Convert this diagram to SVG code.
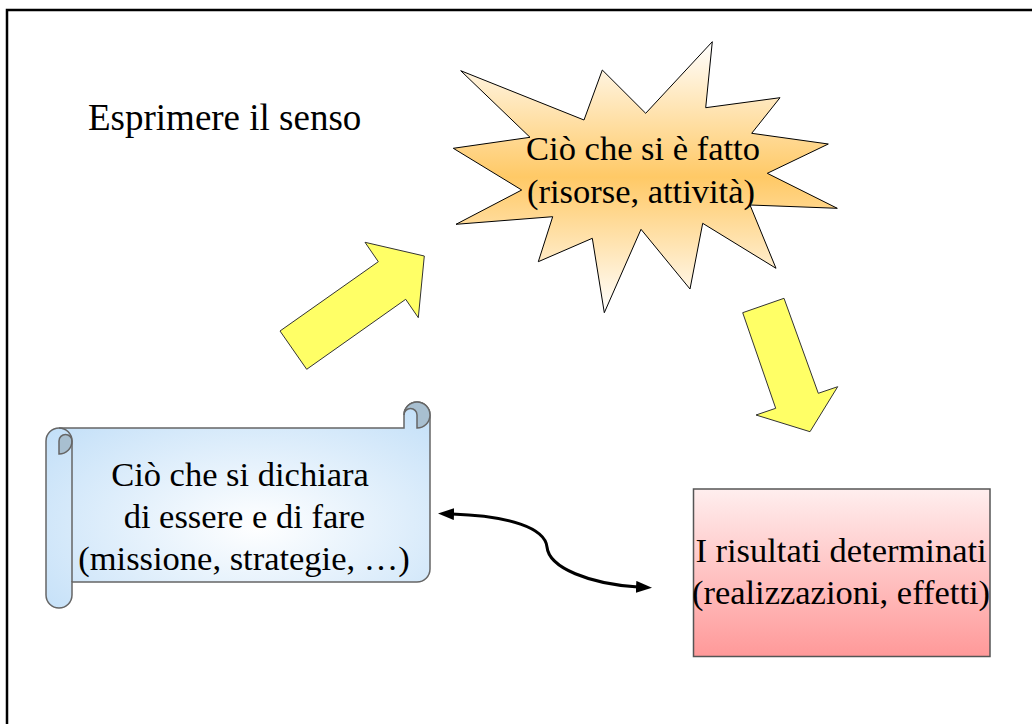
<svg xmlns="http://www.w3.org/2000/svg" width="1032" height="724" viewBox="0 0 1032 724">
  <style>
    text { font-family: 'Liberation Serif', 'Times New Roman', Times, serif; fill: #000; }
    .t { font-size: 34.5px; text-anchor: middle; }
    .title { font-size: 37px; }
    .blk { fill: #ffff66; stroke: #333; stroke-width: 1; stroke-linejoin: miter; }
    .scr { stroke: #666; stroke-width: 1.5; fill: none; }
  </style>
  <defs>
    <linearGradient id="gStar" x1="0" y1="0" x2="0" y2="1">
      <stop offset="0" stop-color="#ffffff"/>
      <stop offset="0.5" stop-color="#ffc966"/>
      <stop offset="1" stop-color="#ffffff"/>
    </linearGradient>
    <linearGradient id="gRed" x1="0" y1="0" x2="0" y2="1">
      <stop offset="0" stop-color="#ffeeee"/>
      <stop offset="1" stop-color="#ff9999"/>
    </linearGradient>
    <radialGradient id="gScroll" cx="0.55" cy="0.6" r="0.7">
      <stop offset="0" stop-color="#ffffff"/>
      <stop offset="1" stop-color="#c4e0f8"/>
    </radialGradient>
    <marker id="ah" viewBox="0 0 16 12" refX="2" refY="6" markerWidth="16" markerHeight="12" markerUnits="userSpaceOnUse" orient="auto-start-reverse">
      <path d="M0,0 L16,6 L0,12 Z" fill="#000"/>
    </marker>
  </defs>

  <rect x="0" y="0" width="1032" height="724" fill="#fff"/>
  <rect id="frame" x="7" y="10" width="1100" height="800" fill="none" stroke="#000" stroke-width="2.5"/>

  <g id="title">
    <text class="title" x="88" y="130" font-family="Liberation Serif">Esprimere il senso</text>
  </g>

  <g id="star">
    <polygon points="712.3,41.7 705.7,107.7 780,97.7 751.7,133.3 828.3,144 767.3,173.3 837.3,208.3 750,205 776,268.3 702.7,223.3 690,289 641,229.3 604.3,312.7 592.3,238.3 538.3,261.7 552.7,216.7 456,224.3 521.7,190 453.3,148.3 530,137.3 460.7,70.7 584,120 602.3,70 645.7,113.3" fill="url(#gStar)" stroke="#000" stroke-width="1"/>
    <text class="t" x="643" y="160" font-family="Liberation Serif">Ciò che si è fatto</text>
    <text class="t" x="641" y="203" font-family="Liberation Serif">(risorse, attività)</text>
  </g>

  <g id="arrow-up">
    <polygon class="blk" points="280,331 306.7,369.3 405.7,299.3 418.3,317.7 424.3,256 365,242.3 378.3,261.7"/>
  </g>

  <g id="arrow-down">
    <polygon class="blk" points="742.7,312.7 784,298.3 818.3,393.3 837.7,386.7 810,431.7 756,415 775.7,408.3"/>
  </g>

  <g id="scroll">
    <path d="M430,415 A13,13 0 0 0 404,415 L404,428 L59,428 A13,13 0 0 0 46,441 L46,595 A13,13 0 0 0 72,595 L72,582 L417,582 A13,13 0 0 0 430,569 Z" fill="url(#gScroll)" stroke="#666" stroke-width="1.5"/>
    <path d="M430,415 A13,13 0 0 0 404,415 A6.5,6.5 0 0 1 417,415 L417,428 A13,13 0 0 0 430,415 Z" fill="#a8bfd0" stroke="#666" stroke-width="1.5"/>
    <path d="M59,441 A6.5,6.5 0 0 1 72,441 A13,13 0 0 1 59,454 Z" fill="#a8bfd0" stroke="#666" stroke-width="1.5"/>
    <path class="scr" d="M59,428 A13,13 0 0 1 72,441 L72,582"/>
    <text class="t" x="240" y="486" font-family="Liberation Serif">Ciò che si dichiara</text>
    <text class="t" x="240" y="528" font-family="Liberation Serif" xml:space="preserve"> di essere e di fare</text>
    <text class="t" x="244" y="570" font-family="Liberation Serif">(missione, strategie, …)</text>
  </g>

  <g id="results">
    <rect x="693.5" y="489" width="296.5" height="167.5" fill="url(#gRed)" stroke="#555" stroke-width="1.5"/>
    <text class="t" x="841" y="562" font-family="Liberation Serif">I risultati determinati</text>
    <text class="t" x="841" y="604" font-family="Liberation Serif">(realizzazioni, effetti)</text>
  </g>

  <g id="connectors">
    <path d="M452,514 C510,516 545,528 547,547 C549,568 590,584 638,587" fill="none" stroke="#000" stroke-width="3" marker-start="url(#ah)" marker-end="url(#ah)"/>
  </g>
</svg>
